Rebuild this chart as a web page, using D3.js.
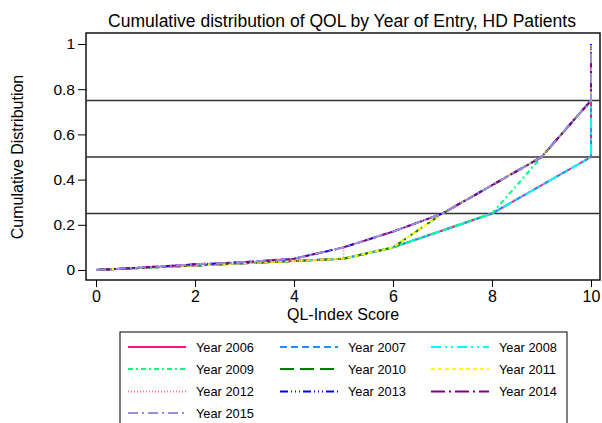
<!DOCTYPE html>
<html>
<head>
<meta charset="utf-8">
<script src="https://cdn.jsdelivr.net/npm/d3@7"></script>
<style>
  body { margin: 0; background: #fff; }
  text { font-family: "Liberation Sans", Arial, sans-serif; fill: #000; }
</style>
</head>
<body>
<svg id="chart"></svg>
<script>
// QL-Index score points
const scores = [0, 1, 2, 3, 4, 5, 6, 7, 8, 9, 10, 10]
const scores2012 = [0, 1, 2, 3, 4, 5, 5, 6, 7, 8, 9, 10, 10]

// cumulative shares
const cdfSlow = [0, 0.01, 0.02, 0.03, 0.04, 0.05, 0.1, 0.175, 0.25, 0.375, 0.5, 1]
const cdfFast = [0, 0.012, 0.025, 0.035, 0.05, 0.1, 0.17, 0.25, 0.375, 0.5, 0.75, 1]
const cdf2009 = [0, 0.01, 0.02, 0.03, 0.04, 0.05, 0.1, 0.175, 0.25, 0.5, 0.75, 1]
const cdfLate = [0, 0.01, 0.02, 0.03, 0.04, 0.05, 0.1, 0.25, 0.375, 0.5, 0.75, 1]
const cdf2012 = [0, 0.01, 0.02, 0.03, 0.04, 0.05, 0.1, 0.17, 0.25, 0.375, 0.5, 0.75, 1]

const years = ['2006', '2007', '2008', '2009', '2010', '2011', '2012', '2013', '2014', '2015']
const yearScores = [scores, scores, scores, scores, scores, scores, scores2012, scores, scores, scores]
const yearValues = [cdfSlow, cdfSlow, cdfSlow, cdf2009, cdfLate, cdfLate, cdf2012, cdfFast, cdfFast, cdfFast]
const colors = ['#ff1480', '#1e90ff', '#00ffff', '#00ff7f', '#008000', '#ffff00', '#ff7f7f', '#0000ff', '#800080', '#9b8fdc']
const dashes = ['none', '7,4', '10,4,2,4,2,4', '5,3,2,3', '14,6', '4,3', '1,2', '8,3,1,3,1,3,1,3', '14,4,2,4', '10,4,2,4']

const xTicks = [0, 2, 4, 6, 8, 10]
const yTicks = [0, 0.2, 0.4, 0.6, 0.8, 1]
const refLines = [0.25, 0.5, 0.75]

const W = 602, H = 423
const frame = {left: 86, top: 33, right: 600, bottom: 280}

const svg = d3.select('#chart')
  .attr('width', W)
  .attr('height', H)

svg.append('rect').attr('width', W).attr('height', H).attr('fill', '#fff')

const x = d3.scaleLinear().domain([0, 10]).range([96, 591])
const y = d3.scaleLinear().domain([0, 1]).range([270, 44])

// title
svg.append('text')
  .attr('x', 342).attr('y', 27)
  .attr('text-anchor', 'middle')
  .style('font-size', '17.5px')
  .text('Cumulative distribution of QOL by Year of Entry, HD Patients')

// frame
svg.append('rect')
  .attr('x', frame.left).attr('y', frame.top)
  .attr('width', frame.right - frame.left)
  .attr('height', frame.bottom - frame.top)
  .attr('fill', 'none')
  .attr('stroke', '#000')
  .attr('stroke-width', 1.4)

// axes
const xAxis = svg.append('g')
  .attr('transform', 'translate(0,' + frame.bottom + ')')
  .call(d3.axisBottom(x).tickValues(xTicks).tickSize(7).tickPadding(4))
xAxis.select('.domain').remove()
xAxis.selectAll('line').attr('stroke', '#000')
xAxis.selectAll('text').style('font-size', '16px').style('font-family', '"Liberation Sans", Arial, sans-serif')

const yAxis = svg.append('g')
  .attr('transform', 'translate(' + frame.left + ',0)')
  .call(d3.axisLeft(y).tickValues(yTicks).tickSize(8).tickPadding(3).tickFormat(d3.format('~g')))
yAxis.select('.domain').remove()
yAxis.selectAll('line').attr('stroke', '#000')
yAxis.selectAll('text').style('font-size', '15.5px').style('font-family', '"Liberation Sans", Arial, sans-serif')

svg.append('text')
  .attr('x', 343).attr('y', 320)
  .attr('text-anchor', 'middle')
  .style('font-size', '16px')
  .text('QL-Index Score')

svg.append('text')
  .attr('transform', 'translate(23,157) rotate(-90)')
  .attr('text-anchor', 'middle')
  .style('font-size', '16px')
  .text('Cumulative Distribution')

// reference lines at quartiles
svg.append('g')
  .selectAll('line')
  .data(refLines)
  .enter()
  .append('line')
  .attr('x1', frame.left).attr('x2', frame.right)
  .attr('y1', d => y(d)).attr('y2', d => y(d))
  .attr('stroke', '#333')
  .attr('stroke-width', 1.3)

// series
svg.append('g')
  .selectAll('path')
  .data(yearValues)
  .enter()
  .append('path')
  .attr('d', (vals, k) => d3.line()
    .x((d, i) => x(yearScores[k][i]))
    .y(d => y(d))(vals))
  .attr('fill', 'none')
  .attr('stroke', (d, i) => colors[i])
  .attr('stroke-dasharray', (d, i) => dashes[i])
  .attr('stroke-width', 2)

// legend
const legend = svg.append('g')
legend.append('rect')
  .attr('x', 120).attr('y', 332)
  .attr('width', 447).attr('height', 100)
  .attr('fill', '#fff')
  .attr('stroke', '#000')
  .attr('stroke-width', 1)

const colX = [128, 280, 431]
const rowY = [347, 369, 391.5, 413]

const items = legend.selectAll('g.item')
  .data(years)
  .enter()
  .append('g')
  .attr('class', 'item')
  .attr('transform', (d, i) => 'translate(' + colX[i % 3] + ',' + rowY[Math.floor(i / 3)] + ')')

items.append('line')
  .attr('x1', 0).attr('x2', 58)
  .attr('y1', 0).attr('y2', 0)
  .attr('stroke', (d, i) => colors[i])
  .attr('stroke-dasharray', (d, i) => dashes[i])
  .attr('stroke-width', 2)

items.append('text')
  .attr('x', 68).attr('y', 4.5)
  .style('font-size', '12.8px')
  .text(d => 'Year ' + d)
</script>
</body>
</html>
